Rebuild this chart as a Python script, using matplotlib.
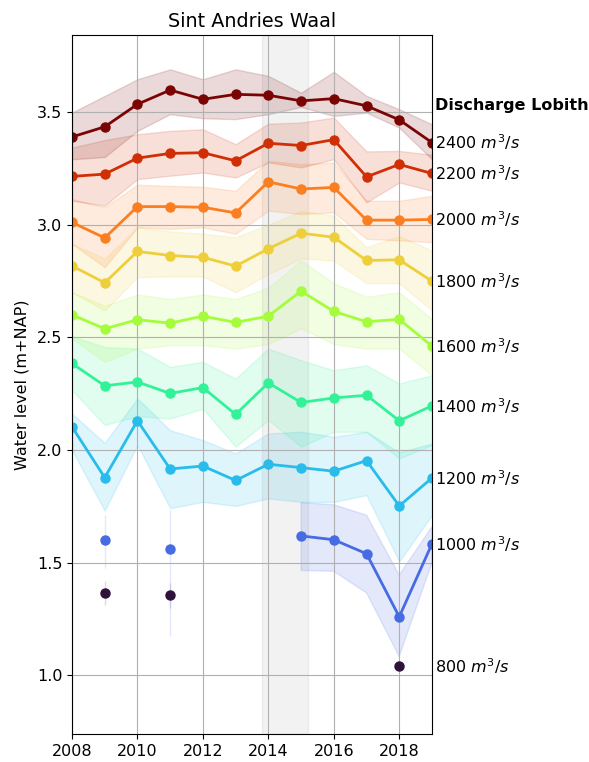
import numpy as np
import matplotlib
matplotlib.use('Agg')
import matplotlib.pyplot as plt

nan = np.nan
years = np.arange(2008, 2020)
discharges = [800, 1000, 1200, 1400, 1600, 1800, 2000, 2200, 2400]

# mean water level per discharge class
wl_800 = [nan, 1.366, nan, 1.355, nan, nan, nan, nan, nan, nan, 1.040, nan]
wl_1000 = [nan, 1.602, nan, 1.561, nan, nan, nan, 1.619, 1.602, 1.540, 1.260, 1.584]
wl_1200 = [2.103, 1.878, 2.130, 1.916, 1.929, 1.865, 1.937, 1.922, 1.906, 1.953, 1.752, 1.876]
wl_1400 = [2.384, 2.285, 2.302, 2.251, 2.277, 2.158, 2.298, 2.211, 2.231, 2.243, 2.130, 2.196]
wl_1600 = [2.600, 2.538, 2.578, 2.563, 2.594, 2.566, 2.594, 2.705, 2.615, 2.569, 2.580, 2.461]
wl_1800 = [2.817, 2.742, 2.881, 2.863, 2.855, 2.816, 2.893, 2.962, 2.944, 2.841, 2.844, 2.749]
wl_2000 = [3.010, 2.941, 3.080, 3.080, 3.077, 3.052, 3.190, 3.158, 3.165, 3.020, 3.020, 3.023]
wl_2200 = [3.214, 3.224, 3.295, 3.316, 3.319, 3.283, 3.361, 3.351, 3.377, 3.212, 3.267, 3.227]
wl_2400 = [3.389, 3.434, 3.534, 3.597, 3.556, 3.578, 3.574, 3.549, 3.559, 3.527, 3.465, 3.364]

# lower / upper spread
lo_800 = [nan, 1.314, nan, 1.300, nan, nan, nan, nan, nan, nan, 1.030, nan]
hi_800 = [nan, 1.417, nan, 1.410, nan, nan, nan, nan, nan, nan, 1.050, nan]
lo_1000 = [nan, 1.478, nan, 1.177, nan, nan, nan, 1.466, 1.462, 1.366, 1.084, 1.500]
hi_1000 = [nan, 1.711, nan, 1.733, nan, nan, nan, 1.767, 1.757, 1.711, 1.445, 1.660]
lo_1200 = [2.000, 1.731, 2.022, 1.742, 1.770, 1.752, 1.785, 1.770, 1.770, 1.800, 1.506, 1.711]
hi_1200 = [2.161, 2.032, 2.229, 2.088, 2.044, 1.985, 2.074, 2.081, 2.059, 2.081, 1.990, 2.029]
lo_1400 = [2.265, 2.111, 2.150, 2.140, 2.183, 2.015, 2.133, 2.015, 2.081, 2.081, 1.963, 2.022]
hi_1400 = [2.505, 2.457, 2.450, 2.369, 2.391, 2.317, 2.450, 2.398, 2.354, 2.376, 2.295, 2.332]
lo_1600 = [2.494, 2.391, 2.450, 2.465, 2.465, 2.450, 2.470, 2.540, 2.470, 2.450, 2.450, 2.332]
hi_1600 = [2.700, 2.640, 2.690, 2.670, 2.690, 2.670, 2.720, 2.841, 2.740, 2.680, 2.700, 2.580]
lo_1800 = [2.700, 2.619, 2.767, 2.770, 2.770, 2.700, 2.780, 2.850, 2.840, 2.740, 2.740, 2.619]
hi_1800 = [2.915, 2.850, 2.988, 2.970, 2.960, 2.944, 3.000, 3.060, 3.040, 2.900, 2.950, 2.885]
lo_2000 = [2.915, 2.811, 2.988, 2.981, 2.988, 2.959, 3.062, 3.047, 3.054, 2.937, 2.930, 2.922]
hi_2000 = [3.114, 3.077, 3.177, 3.172, 3.168, 3.150, 3.283, 3.268, 3.275, 3.106, 3.106, 3.128]
lo_2200 = [3.106, 3.084, 3.202, 3.217, 3.231, 3.209, 3.276, 3.254, 3.290, 3.099, 3.187, 3.150]
hi_2200 = [3.342, 3.375, 3.401, 3.416, 3.423, 3.357, 3.448, 3.453, 3.475, 3.325, 3.327, 3.310]
lo_2400 = [3.290, 3.300, 3.416, 3.490, 3.472, 3.468, 3.490, 3.522, 3.482, 3.497, 3.430, 3.290]
hi_2400 = [3.497, 3.571, 3.645, 3.689, 3.645, 3.689, 3.660, 3.585, 3.678, 3.571, 3.512, 3.445]

levels = [wl_800, wl_1000, wl_1200, wl_1400, wl_1600, wl_1800, wl_2000, wl_2200, wl_2400]
lows = [lo_800, lo_1000, lo_1200, lo_1400, lo_1600, lo_1800, lo_2000, lo_2200, lo_2400]
highs = [hi_800, hi_1000, hi_1200, hi_1400, hi_1600, hi_1800, hi_2000, hi_2200, hi_2400]

colors = plt.cm.turbo(np.linspace(0, 1, len(discharges)))
fs = 11.5

fig = plt.figure(figsize=(5.89, 7.62), dpi=100)
ax = fig.add_axes([0.1222, 0.0367, 0.6112, 0.917])

ax.axvspan(2013.8, 2015.2, color='grey', alpha=0.1)

for q, wl, lo, hi, c in zip(discharges, levels, lows, highs, colors):
    wl = np.array(wl)
    ax.fill_between(years, lo, hi, color=c, alpha=0.15)
    ax.plot(years, wl, '-o', color=c, lw=2, ms=6.5)
    last = wl[~np.isnan(wl)][-1]
    ax.text(2019.1, last, f'{q} $m^3/s$', va='center', ha='left', fontsize=fs)

ax.text(2019.1, 3.53, 'Discharge Lobith', fontweight='bold', va='center', ha='left', fontsize=fs)

ax.set_xlim(2008, 2019)
ax.set_ylim(0.74, 3.84)
ax.set_xticks(np.arange(2008, 2019, 2))
ax.set_yticks([1.0, 1.5, 2.0, 2.5, 3.0, 3.5])
ax.tick_params(labelsize=fs)
ax.grid(True)
ax.set_ylabel('Water level (m+NAP)', fontsize=fs, labelpad=5)
ax.set_title('Sint Andries Waal', fontsize=13.8)

fig.savefig('out.png', dpi=100)
